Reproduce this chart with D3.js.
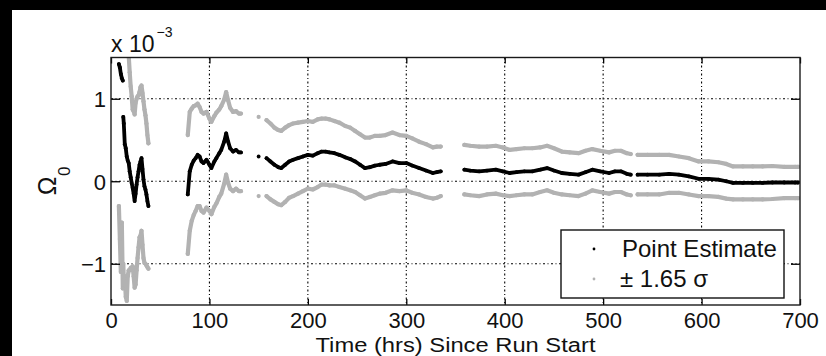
<!DOCTYPE html>
<html>
<head>
<meta charset="utf-8">
<script src="https://cdn.jsdelivr.net/npm/d3@7"></script>
<style>
  html, body { margin: 0; padding: 0; background: #000; }
  svg { display: block; }
  text { font-family: "Liberation Sans", Arial, Helvetica, sans-serif; fill: #111; }
</style>
</head>
<body>
<svg id="chart" width="826" height="356"></svg>
<script>
// Elapsed run time (hours) at each estimate
const hours = [
  8, 9, 10, 11, 12, 12.5, 13, 14, 15, 16, 17, 18, 19, 20, 21, 22, 23, 24, 25, 26, 27, 28, 29, 30, 31, 32, 33, 34, 35, 36, 37, 38,
  78, 80, 82, 84, 86, 88, 90, 92, 94, 97, 100, 102, 105, 107, 110, 112, 115, 117, 119, 121, 124, 127, 130, 132,
  150,
  158, 162, 166, 170, 173, 177, 181, 185, 190, 195, 200, 205, 210, 214, 218, 222, 227, 232, 238, 243, 248, 253, 258,
  263, 268, 273, 279, 286, 293, 300, 306, 313, 320, 327, 331, 335,
  359, 365, 374, 382, 391, 398, 405, 412, 420, 428, 436, 443, 450, 458, 466, 475, 482, 489, 497, 506, 512, 518, 524, 528,
  535, 545, 557, 567, 577, 587, 597, 607, 617, 625, 632, 642, 652, 662, 672, 684, 695, 698
];

// Point estimate of Omega_0, in units of 1e-3
const estimate = [
  1.42, 1.38, 1.30, 1.25, 1.22, 0.78, 0.70, 0.45, 0.40, 0.30, 0.25, 0.22, 0.12, 0.05, -0.02, -0.08, -0.15, -0.24, -0.15, -0.04, 0.05, 0.12, 0.20, 0.24, 0.28, 0.15, 0.02, -0.06, -0.10, -0.16, -0.24, -0.30,
  -0.16, 0.12, 0.20, 0.25, 0.28, 0.32, 0.30, 0.24, 0.22, 0.26, 0.20, 0.16, 0.24, 0.28, 0.34, 0.38, 0.48, 0.58, 0.48, 0.40, 0.36, 0.38, 0.35, 0.35,
  0.30,
  0.28, 0.24, 0.20, 0.17, 0.16, 0.20, 0.24, 0.26, 0.28, 0.30, 0.32, 0.31, 0.34, 0.36, 0.36, 0.35, 0.34, 0.32, 0.29, 0.27, 0.24, 0.20, 0.16,
  0.17, 0.19, 0.20, 0.21, 0.24, 0.22, 0.22, 0.19, 0.16, 0.13, 0.10, 0.11, 0.12,
  0.14, 0.13, 0.12, 0.13, 0.14, 0.12, 0.10, 0.11, 0.12, 0.12, 0.14, 0.16, 0.13, 0.10, 0.09, 0.08, 0.11, 0.14, 0.12, 0.10, 0.12, 0.12, 0.09, 0.08,
  0.08, 0.08, 0.08, 0.09, 0.08, 0.06, 0.03, 0.03, 0.02, 0.00, -0.02, -0.02, -0.02, -0.02, -0.015, -0.015, -0.015, -0.015
];

// Half-width of the band, 1.65 sigma, in units of 1e-3
const band165 = [
  1.72, 2.08, 2.40, 1.75, 2.52, 1.78, 1.90, 1.60, 1.80, 1.75, 1.40, 1.30, 1.20, 1.10, 1.05, 0.95, 1.00, 1.05, 1.10, 1.04, 0.98, 0.92, 0.88, 0.90, 0.88, 0.92, 0.95, 0.93, 0.90, 0.86, 0.80, 0.76,
  0.72, 0.72, 0.68, 0.66, 0.64, 0.62, 0.60, 0.60, 0.60, 0.58, 0.56, 0.56, 0.55, 0.55, 0.53, 0.53, 0.51, 0.50, 0.50, 0.49, 0.48, 0.47, 0.47, 0.47,
  0.48,
  0.46, 0.46, 0.45, 0.45, 0.45, 0.45, 0.44, 0.44, 0.43, 0.42, 0.41, 0.41, 0.41, 0.40, 0.40, 0.40, 0.39, 0.39, 0.38, 0.38, 0.37, 0.37, 0.37,
  0.36, 0.36, 0.35, 0.35, 0.35, 0.34, 0.33, 0.33, 0.32, 0.32, 0.31, 0.31, 0.30,
  0.30, 0.30, 0.30, 0.29, 0.29, 0.29, 0.28, 0.28, 0.28, 0.28, 0.27, 0.27, 0.27, 0.26, 0.26, 0.26, 0.26, 0.25, 0.25, 0.25, 0.25, 0.25, 0.25, 0.25,
  0.24, 0.24, 0.24, 0.23, 0.22, 0.22, 0.21, 0.21, 0.21, 0.21, 0.20, 0.20, 0.20, 0.20, 0.20, 0.19, 0.19, 0.19
];

// Hours after which the record has a dropout
const breakAfter = [12, 38, 132, 150, 335, 528];

const xTicks = [0, 100, 200, 300, 400, 500, 600, 700];
const yTicks = [-1, 0, 1];
const legendLabels = ["Point Estimate", "\u00B1 1.65 \u03C3"];
const xTitle = "Time (hrs) Since Run Start";

const svg = d3.select("#chart");
const plot = { left: 111, right: 800, top: 57.5, bottom: 305 };

const x = d3.scaleLinear().domain([0, 700]).range([plot.left, plot.right]);
const y = d3.scaleLinear().domain([-1.5, 1.5]).range([plot.bottom, plot.top]);

// White figure area
svg.append("rect").attr("x", 12).attr("y", 10).attr("width", 814).attr("height", 346).attr("fill", "#fff");

svg.append("clipPath").attr("id", "plotClip")
  .append("rect")
  .attr("x", plot.left).attr("y", plot.top)
  .attr("width", plot.right - plot.left).attr("height", plot.bottom - plot.top);

// Grid
const grid = svg.append("g").attr("stroke", "#000").attr("stroke-width", 1.1)
  .attr("stroke-dasharray", "2,2.5,1,2.5");
grid.selectAll("line.vx").data(xTicks.slice(1, -1)).join("line")
  .attr("x1", d => x(d)).attr("x2", d => x(d))
  .attr("y1", plot.top).attr("y2", plot.bottom);
grid.selectAll("line.hy").data(yTicks).join("line")
  .attr("x1", plot.left).attr("x2", plot.right)
  .attr("y1", d => y(d)).attr("y2", d => y(d));

// Build records and split them into continuous runs at each dropout
const rows = hours.map((t, i) => ({ t, est: estimate[i], hw: band165[i] }));
const runs = [[]];
rows.forEach((r, i) => {
  runs[runs.length - 1].push(r);
  if (breakAfter.includes(r.t) && i < rows.length - 1) runs.push([]);
});

const data = svg.append("g").attr("clip-path", "url(#plotClip)");

function drawSeries(accessor, color, width) {
  const line = d3.line().x(d => x(d.t)).y(d => y(accessor(d)));
  runs.forEach(run => {
    if (run.length > 1) {
      data.append("path").attr("d", line(run))
        .attr("fill", "none").attr("stroke", color).attr("stroke-width", width)
        .attr("stroke-linejoin", "round").attr("stroke-linecap", "round");
    }
  });
  data.append("g").selectAll("circle").data(rows).join("circle")
    .attr("cx", d => x(d.t)).attr("cy", d => y(accessor(d)))
    .attr("r", width / 2).attr("fill", color);
}

const gray = "#b2b2b2";
drawSeries(d => d.est + d.hw, gray, 4.2);
drawSeries(d => d.est - d.hw, gray, 4.2);
drawSeries(d => d.est, "#000", 3.8);

// Axes with inward ticks on all sides
const fontSize = 22;
const axB = svg.append("g").attr("transform", `translate(0,${plot.bottom})`)
  .call(d3.axisBottom(x).tickValues(xTicks).tickSizeInner(-6).tickSizeOuter(0).tickFormat(d3.format("d")));
const axT = svg.append("g").attr("transform", `translate(0,${plot.top})`)
  .call(d3.axisTop(x).tickValues(xTicks).tickSizeInner(-6).tickSizeOuter(0).tickFormat(""));
const axL = svg.append("g").attr("transform", `translate(${plot.left},0)`)
  .call(d3.axisLeft(y).tickValues(yTicks).tickSizeInner(-9).tickSizeOuter(0).tickFormat(d3.format("d")));
const axR = svg.append("g").attr("transform", `translate(${plot.right},0)`)
  .call(d3.axisRight(y).tickValues(yTicks).tickSizeInner(-9).tickSizeOuter(0).tickFormat(""));

[axB, axT, axL, axR].forEach(a => {
  a.select(".domain").remove();
  a.selectAll(".tick line").attr("stroke", "#000").attr("stroke-width", 1.3);
  a.selectAll("text").attr("font-family", null).attr("font-size", fontSize).attr("fill", "#111");
});
axB.selectAll("text").attr("y", 7).attr("dy", "0.71em");
axL.selectAll("text").attr("x", -5).attr("dy", "0.36em");

// Frame
svg.append("rect")
  .attr("x", plot.left).attr("y", plot.top)
  .attr("width", plot.right - plot.left).attr("height", plot.bottom - plot.top)
  .attr("fill", "none").attr("stroke", "#1a1a1a").attr("stroke-width", 1.4);

// Exponent label
const expo = svg.append("text").attr("x", plot.left).attr("y", 52).attr("font-size", 23);
expo.append("tspan").text("x 10");
expo.append("tspan").attr("dx", 2).attr("dy", -15).attr("font-size", 14).text("\u22123");

// Y axis label: Omega with subscript 0
const yl = svg.append("g").attr("transform", "translate(56,186) rotate(-90)");
yl.append("text").attr("x", 0).attr("y", 0).attr("text-anchor", "middle")
  .attr("font-size", 25).text("\u03A9");
yl.append("text").attr("x", 10).attr("y", 14).attr("font-size", 17).text("0");

// X axis title
svg.append("text").attr("x", (plot.left + plot.right) / 2).attr("y", 352)
  .attr("text-anchor", "middle").attr("font-size", 20)
  .attr("textLength", 280).attr("lengthAdjust", "spacingAndGlyphs").text(xTitle);

// Legend
const lg = svg.append("g");
lg.append("rect").attr("x", 561).attr("y", 230).attr("width", 223).attr("height", 68)
  .attr("fill", "#fff").attr("stroke", "#111").attr("stroke-width", 1.4);
const legendColors = ["#000", gray];
legendLabels.forEach((label, i) => {
  const cy = 249 + i * 30;
  lg.append("circle").attr("cx", 594).attr("cy", cy).attr("r", 1.4).attr("fill", legendColors[i]);
  lg.append("text").attr("x", i === 0 ? 622 : 620).attr("y", cy + 7.5)
    .attr("font-size", 24).text(label);
});
</script>
</body>
</html>
